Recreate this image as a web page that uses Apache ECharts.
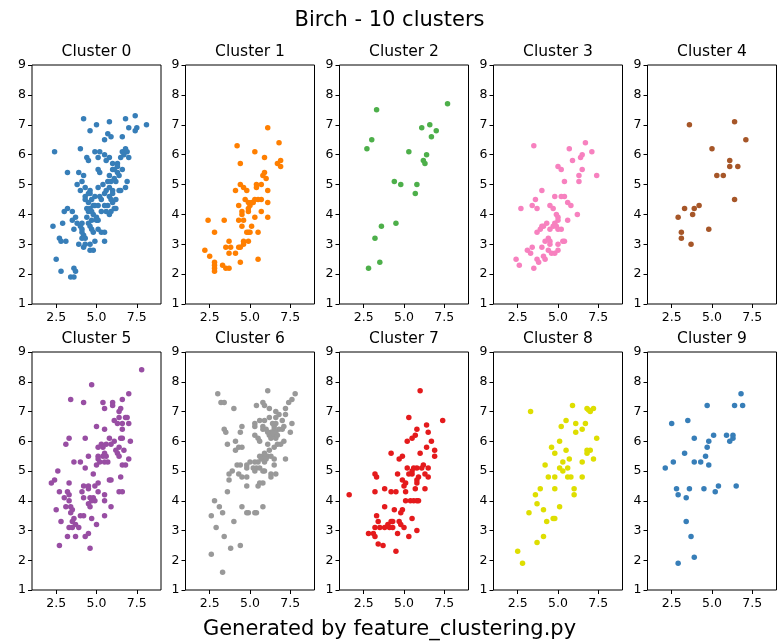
<!DOCTYPE html>
<html>
<head>
<meta charset="utf-8">
<script src="https://cdn.jsdelivr.net/npm/echarts@6/dist/echarts.min.js"></script>
<style>
  html, body { margin: 0; padding: 0; background: #fff; }
  #chart { width: 779px; height: 644px; }
</style>
</head>
<body>
<div id="chart"></div>
<script>
// Birch clustering result: one scatter panel per cluster
const figTitle = 'Birch - 10 clusters';
const footer = 'Generated by feature_clustering.py';
const clusterNames = ['Cluster 0', 'Cluster 1', 'Cluster 2', 'Cluster 3', 'Cluster 4',
                      'Cluster 5', 'Cluster 6', 'Cluster 7', 'Cluster 8', 'Cluster 9'];
const clusterColors = ['#377eb8', '#ff7f00', '#4daf4a', '#f781bf', '#a65628',
                       '#984ea3', '#999999', '#e41a1c', '#dede00', '#377eb8'];
const xTicks = [2.5, 5.0, 7.5];
const yTicks = [1, 2, 3, 4, 5, 6, 7, 8, 9];

const cluster0 = [[4.2,7.2],[5.0,7.0],[5.8,7.1],[4.6,6.8],[5.7,6.7],[5.5,6.5],[5.9,6.6],[6.6,6.6],
  [6.8,7.2],[7.4,7.3],[7.0,6.9],[7.5,6.9],[7.4,6.8],[8.1,7.0],[2.4,6.1],[4.0,6.2],[4.9,6.1],[5.2,6.1],
  [4.4,5.9],[4.5,5.8],[5.1,5.9],[5.5,6.0],[5.8,5.9],[5.6,5.8],[6.6,6.1],[6.8,6.2],[6.9,6.1],[7.0,5.9],
  [6.7,6.0],[6.0,5.7],[6.3,5.7],[5.1,5.5],[5.2,5.4],[3.2,5.4],[3.9,5.4],[4.2,5.3],[6.0,5.5],[6.1,5.5],
  [6.3,5.4],[6.4,5.3],[6.6,5.5],[5.8,5.3],[5.9,5.1],[6.9,5.1],[6.2,5.1],[5.7,5.1],[3.8,5.0],[4.1,5.1],
  [4.0,4.8],[4.3,4.9],[4.6,4.8],[5.1,4.9],[5.8,4.9],[6.0,4.8],[6.4,4.8],[6.5,4.8],[6.8,4.9],[4.3,4.6],
  [4.5,4.7],[4.6,4.7],[4.3,4.5],[4.5,4.4],[4.7,4.5],[4.9,4.6],[5.2,4.6],[5.8,4.6],[5.9,4.5],[6.0,4.4],
  [6.1,4.2],[6.2,4.2],[5.7,4.3],[5.6,4.1],[5.8,4.0],[5.9,4.1],[5.5,4.3],[4.9,4.3],[5.1,4.3],[4.8,4.3],
  [4.6,4.2],[4.5,4.1],[4.8,4.0],[5.0,3.9],[5.1,3.8],[5.0,3.8],[4.7,3.8],[4.5,3.7],[4.6,3.6],[4.7,3.5],
  [5.1,3.5],[4.1,3.7],[4.0,3.6],[4.1,3.5],[4.1,3.4],[4.2,3.3],[4.3,3.2],[4.1,3.2],[3.9,3.0],[4.2,2.9],
  [4.3,3.0],[4.6,3.0],[4.9,3.1],[5.3,3.4],[5.5,3.4],[5.5,3.1],[4.6,2.8],[4.8,2.8],[2.3,3.6],[2.9,3.7],
  [2.7,3.2],[2.8,3.1],[3.1,3.1],[3.0,4.1],[3.2,4.2],[3.5,4.1],[3.5,3.8],[3.6,3.5],[2.5,2.5],[2.8,2.1],
  [3.6,2.2],[3.7,2.1],[3.4,1.9],[3.6,1.9],[4.7,4.1],[4.4,3.9],[3.8,3.7],[5.3,4.1],[6.2,4.5],[6.0,4.7],
  [5.6,4.8],[5.3,4.5],[5.5,4.7],[6.3,5.6],[6.1,5.2],[5.4,5.0],[4.4,4.2],[6.5,5.9],[4.8,3.4],[3.7,3.9]];

const cluster1 = [[6.1,6.9],[4.2,6.3],[5.3,6.1],[6.8,6.4],[4.4,5.7],[5.9,5.9],[6.7,5.7],[6.9,5.8],
  [6.9,5.6],[5.9,5.4],[5.8,5.3],[6.0,5.2],[5.7,5.0],[5.4,5.0],[5.4,4.9],[6.1,4.8],[4.4,5.0],[4.6,4.9],
  [4.8,4.8],[4.1,4.8],[4.7,4.5],[4.9,4.4],[5.0,4.3],[5.1,4.4],[5.3,4.5],[5.5,4.5],[5.7,4.5],[5.2,4.4],
  [4.9,4.2],[4.9,4.1],[4.3,4.3],[4.5,4.1],[4.5,4.0],[5.7,4.1],[5.3,3.9],[6.1,3.9],[6.1,4.4],[4.3,3.8],
  [4.6,3.8],[4.5,3.6],[5.1,3.6],[4.9,3.4],[4.8,3.4],[5.0,3.4],[5.5,3.4],[4.6,3.1],[4.6,3.0],[4.9,3.1],
  [4.3,2.9],[4.4,2.9],[3.4,3.8],[2.4,3.8],[2.8,3.4],[2.2,2.8],[2.5,2.6],[2.8,2.4],[2.8,2.3],[2.8,2.2],
  [2.8,2.1],[3.3,2.3],[3.5,2.2],[3.7,2.2],[3.5,2.9],[3.8,2.9],[3.7,3.1],[3.7,2.7],[4.1,2.7],[4.4,2.4],
  [5.5,2.5]];

const cluster2 = [[3.3,7.5],[3.0,6.5],[2.7,6.2],[7.7,7.7],[6.6,7.0],[6.1,6.9],[7.0,6.8],[6.7,6.6],
  [5.3,6.1],[6.4,6.0],[6.2,5.8],[6.3,5.7],[4.4,5.1],[4.8,5.0],[5.8,5.0],[5.7,4.7],[4.5,3.7],[3.6,3.6],
  [3.2,3.2],[3.5,2.4],[2.8,2.2]];

const cluster3 = [[3.5,6.3],[6.7,6.4],[5.7,6.2],[7.1,6.1],[6.5,6.0],[6.4,5.9],[5.9,5.8],[5.0,5.6],
  [5.2,5.5],[6.5,5.5],[6.3,5.3],[7.4,5.3],[6.3,5.1],[5.4,5.1],[4.0,4.8],[4.8,4.6],[5.2,4.6],[5.4,4.6],
  [3.6,4.5],[5.6,4.4],[5.8,4.3],[2.7,4.2],[3.4,4.3],[3.7,4.2],[4.5,4.3],[4.7,4.2],[6.2,4.0],[4.9,4.0],
  [5.0,3.9],[5.0,3.8],[5.6,3.8],[4.8,3.7],[4.3,3.7],[4.1,3.6],[4.0,3.6],[3.9,3.5],[3.7,3.4],[4.7,3.6],
  [4.9,3.6],[4.5,3.5],[5.0,3.5],[5.2,3.5],[4.4,3.2],[4.2,3.1],[4.5,3.1],[5.0,3.0],[5.3,3.1],[5.4,3.1],
  [4.5,3.0],[4.0,2.9],[3.4,2.9],[3.1,2.8],[3.3,2.7],[4.4,2.8],[4.6,2.7],[4.8,2.7],[5.0,2.8],[4.1,2.6],
  [4.2,2.5],[3.7,2.5],[3.8,2.4],[2.4,2.5],[2.6,2.3],[3.5,2.2]];

const cluster4 = [[3.6,7.0],[6.4,7.1],[7.1,6.5],[5.0,6.2],[6.1,5.8],[6.1,5.6],[6.6,5.6],[5.3,5.3],
  [5.7,5.3],[6.4,4.5],[4.2,4.3],[3.3,4.2],[3.9,4.2],[3.8,4.0],[2.9,3.9],[4.8,3.5],[3.1,3.4],[3.1,3.2],
  [3.7,3.0]];

const cluster5 = [[7.8,8.4],[4.7,7.9],[3.4,7.4],[4.2,7.3],[5.4,7.3],[6.0,7.3],[6.0,7.2],[5.5,7.1],
  [6.6,7.4],[7.0,7.6],[6.5,7.1],[6.4,7.0],[6.8,6.8],[6.9,6.8],[6.4,6.8],[6.1,6.7],[6.3,6.6],[6.6,6.6],
  [7.0,6.6],[5.0,6.5],[5.5,6.4],[6.6,6.4],[3.3,6.1],[4.3,6.1],[5.8,6.1],[6.5,6.1],[6.6,6.1],[3.1,5.9],
  [5.3,5.9],[5.6,5.9],[5.9,5.9],[6.1,6.0],[7.1,6.0],[5.1,5.8],[5.4,5.8],[6.4,5.8],[6.2,5.7],[6.7,5.7],
  [4.5,5.5],[5.1,5.5],[5.4,5.5],[5.6,5.5],[5.5,5.6],[6.3,5.6],[6.4,5.5],[5.1,5.4],[5.2,5.3],[5.5,5.3],
  [5.7,5.3],[4.0,5.3],[3.6,5.3],[5.0,5.2],[6.6,5.2],[6.8,5.2],[7.0,5.4],[4.3,5.1],[2.6,5.0],[6.5,4.8],
  [4.8,4.9],[5.8,4.7],[5.9,4.7],[2.4,4.7],[2.2,4.6],[5.1,4.6],[3.3,4.6],[4.9,4.5],[4.5,4.5],[4.2,4.5],
  [4.5,4.4],[4.1,4.3],[2.7,4.3],[3.2,4.3],[5.1,4.3],[6.4,4.3],[6.6,4.3],[3.3,4.2],[5.5,4.2],[3.0,4.1],
  [4.2,4.1],[4.6,4.1],[4.8,4.1],[4.9,4.0],[4.7,4.0],[3.3,4.0],[5.5,4.0],[4.5,3.9],[4.6,3.8],[3.1,3.8],
  [3.4,3.8],[5.9,3.8],[2.5,3.7],[3.5,3.7],[3.4,3.6],[4.0,3.5],[4.2,3.5],[5.5,3.5],[3.6,3.4],[4.7,3.4],
  [2.8,3.3],[3.5,3.3],[3.7,3.2],[3.3,3.1],[3.5,3.1],[3.9,3.1],[5.0,3.2],[4.5,2.9],[3.2,2.8],[3.7,2.8],
  [4.3,2.8],[2.7,2.5],[4.6,2.4]];

const cluster6 = [[3.0,7.6],[3.2,7.3],[3.4,7.3],[4.0,7.1],[6.1,7.7],[7.8,7.6],[7.6,7.4],[7.4,7.3],
  [5.8,7.3],[5.4,7.2],[5.9,7.2],[6.2,7.1],[7.2,7.1],[6.6,7.0],[6.8,6.9],[7.2,6.9],[5.6,6.7],[5.9,6.7],
  [6.2,6.8],[6.6,6.8],[7.0,6.7],[5.3,6.6],[5.3,6.5],[5.8,6.5],[5.8,6.4],[6.0,6.4],[4.5,6.5],[4.4,6.3],
  [6.5,6.5],[6.6,6.6],[6.5,6.4],[6.3,6.3],[6.8,6.4],[7.0,6.4],[7.1,6.5],[7.6,6.6],[7.5,6.3],[6.2,6.2],
  [6.4,6.2],[6.3,6.1],[6.6,6.1],[5.3,6.2],[5.5,6.1],[5.6,6.0],[3.4,6.4],[3.5,6.3],[3.6,5.9],[4.1,6.0],
  [4.3,5.8],[4.5,5.8],[4.1,5.7],[6.5,5.8],[7.1,6.0],[6.1,5.9],[6.2,5.7],[6.7,5.9],[6.9,5.9],[5.6,5.5],
  [5.8,5.5],[6.1,5.5],[6.3,5.5],[5.7,5.4],[5.9,5.4],[6.5,5.4],[7.2,5.4],[5.5,5.3],[5.9,5.3],[6.0,5.4],
  [5.3,5.3],[5.0,5.3],[6.5,5.2],[4.2,5.2],[4.4,5.2],[4.8,5.2],[5.4,5.1],[5.2,5.1],[5.6,5.1],[4.8,5.1],
  [5.8,5.0],[5.9,5.0],[5.3,5.0],[3.9,5.0],[3.7,4.9],[4.3,4.9],[6.3,4.9],[6.6,4.9],[4.5,4.8],[4.8,4.8],
  [6.3,4.8],[3.7,4.7],[5.6,4.6],[5.8,4.6],[5.5,4.5],[4.8,4.5],[3.6,4.3],[2.8,4.0],[3.1,3.8],[4.5,3.8],
  [5.8,3.8],[2.6,3.5],[3.3,3.6],[4.8,3.6],[4.9,3.6],[5.3,3.6],[5.4,3.6],[4.0,3.3],[2.9,3.1],[3.4,2.8],
  [3.8,2.4],[4.4,2.5],[2.6,2.2],[3.3,1.6],[6.4,6.6],[6.7,6.2],[6.1,6.3],[5.9,5.6],[6.6,6.3]];

const cluster7 = [[1.6,4.2],[6.0,7.7],[5.3,6.8],[7.4,6.7],[6.4,6.55],[5.8,6.4],[6.5,6.3],[5.7,6.2],
  [5.5,6.1],[5.2,6.0],[6.7,6.0],[6.4,5.8],[6.9,5.7],[4.2,5.6],[6.0,5.6],[6.9,5.5],[4.9,5.5],[4.7,5.4],
  [6.2,5.2],[6.1,5.1],[5.8,5.1],[5.6,5.1],[5.2,5.1],[6.5,5.1],[5.5,5.0],[5.3,4.9],[5.5,4.9],[4.6,4.9],
  [3.2,4.9],[3.3,4.8],[5.9,4.8],[6.3,4.9],[6.5,4.8],[4.9,4.7],[5.8,4.7],[5.1,4.6],[5.0,4.5],[5.8,4.6],
  [5.7,4.4],[6.3,4.4],[3.8,4.4],[3.2,4.3],[4.2,4.3],[4.5,4.3],[5.1,4.3],[5.1,4.0],[5.4,4.0],[5.6,4.0],
  [5.8,4.0],[5.9,4.0],[3.8,3.8],[4.4,3.7],[4.9,3.7],[4.8,3.6],[5.5,3.4],[3.3,3.5],[3.4,3.3],[4.2,3.3],
  [4.3,3.3],[4.7,3.3],[4.0,3.2],[4.8,3.2],[3.2,3.1],[3.5,3.1],[3.8,3.1],[4.3,3.1],[5.0,3.1],[4.1,3.1],
  [5.8,3.0],[2.8,2.9],[3.1,2.9],[4.6,2.9],[3.2,2.8],[5.3,2.8],[3.4,2.55],[3.7,2.5],[4.5,2.3]];

const cluster8 = [[5.9,7.2],[3.3,7.0],[6.8,7.1],[7.0,7.0],[7.2,7.1],[6.9,7.05],[5.5,6.7],[6.1,6.6],
  [6.7,6.6],[5.2,6.5],[6.5,6.4],[6.1,6.3],[7.4,6.1],[5.1,6.0],[4.6,5.8],[5.5,5.7],[6.8,5.7],[7.0,5.7],
  [6.8,5.6],[4.8,5.6],[5.7,5.4],[7.2,5.4],[5.3,5.3],[6.5,5.3],[4.2,5.2],[5.1,5.1],[5.6,5.1],[5.3,5.0],
  [4.4,4.8],[4.8,4.8],[5.6,4.8],[5.8,4.8],[6.5,4.8],[3.9,4.4],[4.8,4.4],[6.0,4.4],[6.0,4.2],[3.6,4.2],
  [3.7,3.9],[5.1,3.8],[4.1,3.7],[3.2,3.6],[4.7,3.4],[4.8,3.4],[4.3,3.3],[4.1,2.8],[3.7,2.6],[2.5,2.3],
  [2.8,1.9]];

const cluster9 = [[6.8,7.6],[4.7,7.2],[6.4,7.2],[6.9,7.2],[3.5,6.7],[2.5,6.6],[3.9,6.1],[5.1,6.2],
  [5.9,6.2],[6.3,6.2],[6.3,6.1],[6.1,6.0],[4.8,6.0],[4.7,5.8],[3.3,5.6],[4.6,5.5],[2.6,5.3],[3.9,5.3],
  [4.3,5.3],[4.8,5.2],[2.1,5.1],[5.4,4.5],[6.5,4.5],[2.8,4.4],[3.6,4.4],[4.5,4.4],[5.2,4.3],[2.9,4.2],
  [3.4,4.1],[3.4,3.3],[3.7,2.8],[3.9,2.1],[2.9,1.9]];

const clusters = [cluster0, cluster1, cluster2, cluster3, cluster4,
                  cluster5, cluster6, cluster7, cluster8, cluster9];

// panel layout (pixels)
const colLeft = [32, 185.5, 339.5, 493.5, 647.5];
const panelW = 129;
const rowTop = [65, 352];
const panelH = [239, 238];
const FONT = 'DejaVu Sans';

const grids = [], xAxes = [], yAxes = [], series = [], titles = [];

titles.push({ text: figTitle, left: 'center', top: 10, padding: 0,
  textStyle: { fontFamily: FONT, fontSize: 21, fontWeight: 'normal', color: '#000' } });
titles.push({ text: footer, left: 'center', top: 619, padding: 0,
  textStyle: { fontFamily: FONT, fontSize: 21, fontWeight: 'normal', color: '#000' } });

clusters.forEach((pts, i) => {
  const r = Math.floor(i / 5), c = i % 5;
  grids.push({ left: colLeft[c], top: rowTop[r], width: panelW, height: panelH[r],
    show: true, borderColor: '#000', borderWidth: 1, backgroundColor: '#fff', containLabel: false });
  xAxes.push({ gridIndex: i, type: 'value', min: 1, max: 9,
    axisLine: { show: false }, splitLine: { show: false },
    axisTick: { show: true, customValues: xTicks, length: 4, lineStyle: { color: '#000', width: 1 } },
    axisLabel: { customValues: xTicks, formatter: v => Number(v).toFixed(1), margin: 7,
      fontFamily: FONT, fontSize: 12.5, color: '#000' } });
  yAxes.push({ gridIndex: i, type: 'value', min: 1, max: 9, interval: 1,
    axisLine: { show: false }, splitLine: { show: false },
    axisTick: { show: true, length: 4, lineStyle: { color: '#000', width: 1 } },
    axisLabel: { margin: 6, fontFamily: FONT, fontSize: 12.5, color: '#000',
      formatter: v => yTicks.includes(v) ? String(v) : '' } });
  series.push({ type: 'scatter', xAxisIndex: i, yAxisIndex: i, data: pts,
    symbol: 'circle', symbolSize: 5.5, silent: true, animation: false,
    itemStyle: { color: clusterColors[i], opacity: 1 } });
  titles.push({ text: clusterNames[i], left: colLeft[c] + panelW / 2, textAlign: 'center',
    top: rowTop[r] - 21, padding: 0,
    textStyle: { fontFamily: FONT, fontSize: 15.5, fontWeight: 'normal', color: '#000' } });
});

const chart = echarts.init(document.getElementById('chart'), null, { renderer: 'canvas' });
chart.setOption({
  backgroundColor: '#fff',
  animation: false,
  title: titles,
  grid: grids,
  xAxis: xAxes,
  yAxis: yAxes,
  series: series
});
</script>
</body>
</html>
